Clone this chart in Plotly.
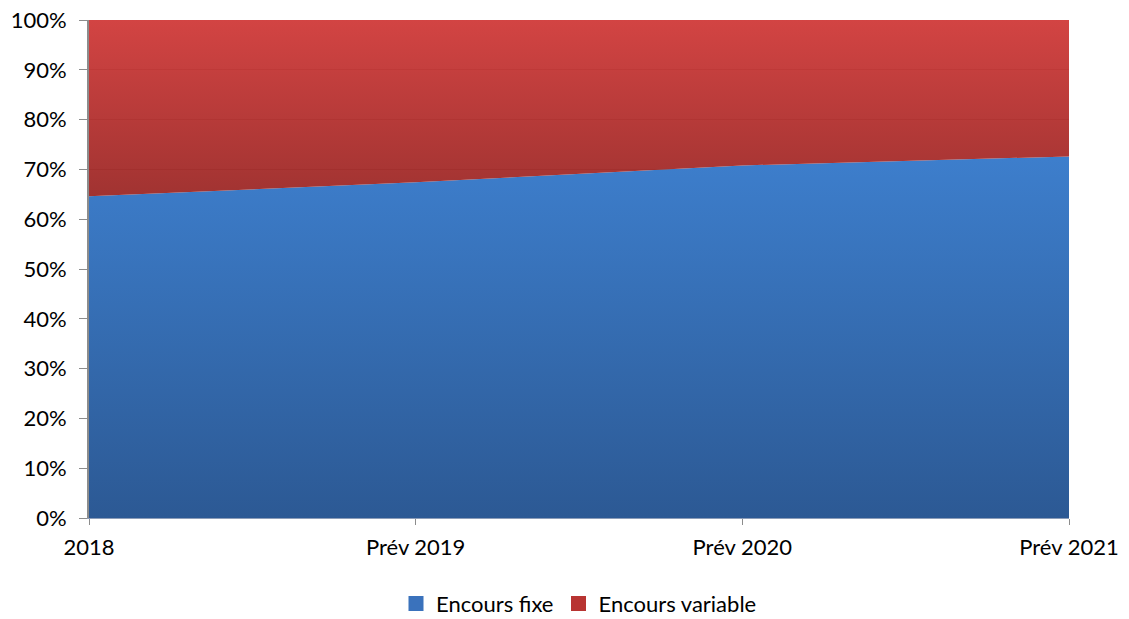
import plotly.graph_objects as go

categories = ["2018", "Prév 2019", "Prév 2020", "Prév 2021"]
encours_fixe = [64.6, 67.4, 70.8, 72.6]
encours_variable = [35.4, 32.6, 29.2, 27.4]
y_ticks = [0, 10, 20, 30, 40, 50, 60, 70, 80, 90, 100]
y_tick_labels = [f"{v}%" for v in y_ticks]

fig = go.Figure()
fig.add_trace(go.Scatter(
    x=categories, y=encours_fixe, name="Encours fixe", mode="lines",
    stackgroup="one", line=dict(width=0, color="#3A78C6"), showlegend=False,
    fillgradient=dict(type="vertical", start=0, stop=72,
                      colorscale=[[0, "#2C5994"], [1, "#3D7ECC"]]),
))
fig.add_trace(go.Scatter(
    x=categories, y=encours_variable, name="Encours variable", mode="lines",
    stackgroup="one", line=dict(width=0, color="#C03634"), showlegend=False,
    fillgradient=dict(type="vertical", start=64, stop=100,
                      colorscale=[[0, "rgba(155,40,38,0.95)"], [1, "rgba(208,58,57,0.95)"]]),
))
# legend entries with square swatches
fig.add_trace(go.Scatter(x=[None], y=[None], mode="markers", name="Encours fixe",
                         marker=dict(symbol="square", size=15, color="#3A72BC")))
fig.add_trace(go.Scatter(x=[None], y=[None], mode="markers", name="Encours variable",
                         marker=dict(symbol="square", size=15, color="#B83432")))

fig.update_layout(
    width=1129, height=619,
    margin=dict(l=89, r=60, t=20, b=101, autoexpand=False),
    plot_bgcolor="white", paper_bgcolor="white",
    font=dict(family="Lato, Open Sans, sans-serif", size=22, color="black"),
    legend=dict(orientation="h", x=0.5, xanchor="center", y=-0.13, yanchor="top",
                font=dict(size=22), itemwidth=30, traceorder="normal",
                tracegroupgap=0),
    xaxis=dict(range=[0, 3], showgrid=False, showline=True, linecolor="#8C9CB8",
               linewidth=1, ticks="outside", ticklen=6, tickcolor="#8C8C8C",
               tickvals=categories, ticktext=categories, zeroline=False,
               automargin=False, ticklabelstandoff=4),
    yaxis=dict(range=[0, 100], tickvals=y_ticks, ticktext=y_tick_labels, showgrid=True,
               gridcolor="#8C8C8C", showline=True, linecolor="#8C8C8C", linewidth=2,
               ticks="outside", ticklen=8, tickcolor="#8C8C8C", zeroline=False,
               automargin=False, ticklabelstandoff=8),
)

fig.write_html("out.html")
